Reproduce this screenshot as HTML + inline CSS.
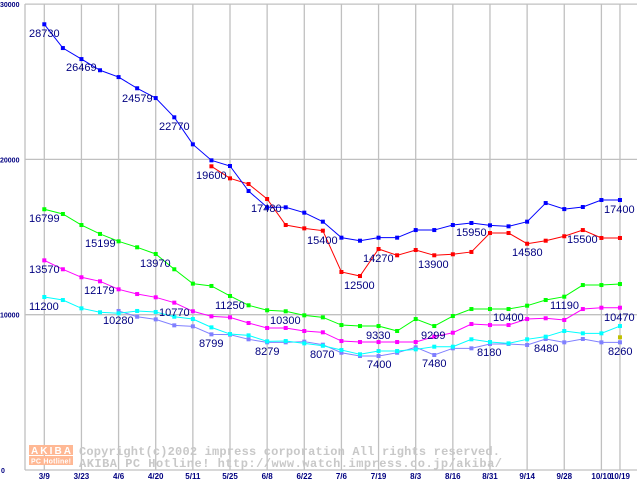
<!DOCTYPE html>
<html><head><meta charset="utf-8"><style>
body{margin:0;background:#fff;}
svg{display:block;font-family:"Liberation Sans",sans-serif;}
</style></head><body>
<svg id="chart" width="640" height="480" viewBox="0 0 640 480" xmlns="http://www.w3.org/2000/svg">
<rect width="640" height="480" fill="#fff"/>
<g id="grid"></g>
<g id="watermark">
<rect x="29" y="445" width="44" height="10" fill="#ffb894"/>
<text x="31" y="454" font-size="10" font-weight="bold" fill="#fff" textLength="40">AKIBA</text>
<rect x="29" y="456" width="44" height="9" fill="#ffb894"/>
<text x="31" y="463.5" font-size="7" font-weight="bold" fill="#fff" textLength="40">PC Hotline!</text>
<text x="79" y="455" font-family="Liberation Mono,monospace" font-size="12" font-weight="bold" fill="#c8c8c8" textLength="421">Copyright(c)2002 impress corporation All rights reserved.</text>
<text x="79" y="467" font-family="Liberation Mono,monospace" font-size="12" font-weight="bold" fill="#c8c8c8" textLength="423">AKIBA PC Hotline!  http://www.watch.impress.co.jp/akiba/</text>
</g>
<g id="series"></g>
<g id="labels" font-size="11" fill="#000080">
<text x="29" y="37">28730</text><text x="66" y="71">26469</text><text x="122" y="102">24579</text><text x="159" y="130">22770</text>
<text x="196" y="179">19600</text><text x="251" y="212">17480</text><text x="307" y="244">15400</text><text x="344" y="289">12500</text>
<text x="363" y="262">14270</text><text x="418" y="268">13900</text><text x="456" y="236">15950</text><text x="512" y="256">14580</text>
<text x="567" y="243">15500</text><text x="604" y="213">17400</text>
<text x="29" y="222">16799</text><text x="85" y="247">15199</text><text x="140" y="267">13970</text><text x="215" y="309">11250</text>
<text x="270" y="324">10300</text><text x="366" y="339">9330</text><text x="421" y="339">9299</text><text x="493" y="321">10400</text>
<text x="550" y="309">11190</text><text x="604" y="321">10470</text>
<text x="29" y="273">13570</text><text x="84" y="294">12179</text><text x="159" y="316">10770</text><text x="199" y="347">8799</text>
<text x="255" y="355">8279</text><text x="310" y="358">8070</text>
<text x="29" y="310">11200</text><text x="103" y="324">10280</text><text x="367" y="368">7400</text><text x="422" y="367">7480</text>
<text x="477" y="356">8180</text><text x="534" y="352">8480</text><text x="608" y="355">8260</text>
</g>
</svg>
<script>
const dates=["3/9","","3/23","","4/6","","4/20","","5/11","","5/25","","6/8","","6/22","","7/6","","7/19","","8/3","","8/16","","8/31","","9/14","","9/28","","10/10","10/19"];
const yTicks=[0,10000,20000,30000];
const blue=[28700,27170,26460,25740,25300,24580,23950,22710,20970,19940,19575,17965,16915,16915,16570,15990,14960,14765,14960,14960,15450,15450,15775,15905,15755,15690,15990,17190,16800,16935,17385,17385];
const red=[null,null,null,null,null,null,null,null,null,19555,18780,18415,17450,15775,15560,15410,12750,12490,14230,13825,14165,13825,13890,14040,15260,15260,14570,14765,15050,15450,14940,14940];
const green=[16790,16485,15775,15200,14725,14340,13910,12925,12000,11850,11205,10605,10285,10220,9960,9830,9335,9270,9270,8950,9720,9270,9915,10365,10365,10365,10580,10945,11160,11910,11910,11975];
const magenta=[13500,12925,12410,12150,11635,11330,11120,10775,10220,9895,9830,9465,9145,9145,8950,8865,8305,8240,8240,8240,8240,8585,8840,9400,9335,9335,9720,9770,9660,10365,10450,10450];
const cyan=[11140,10945,10410,10155,10090,10240,10175,9870,9720,9185,8755,8670,8285,8305,8155,8000,7725,7450,7660,7660,7770,7940,7940,8415,8240,8155,8415,8585,8950,8800,8800,9270];
const lavender=[null,null,null,null,10240,9870,9700,9315,9250,8735,8715,8415,8220,8220,8265,8070,7550,7340,7340,7550,7900,7405,7835,7835,8115,8115,8050,8435,8220,8435,8220,8220];
const olive=[null,null,null,null,null,null,null,null,null,null,null,null,null,null,null,null,null,null,null,null,null,null,null,null,null,null,null,null,null,null,null,8545];
const NS="http://www.w3.org/2000/svg";
const xS=i=>44.3+i*18.57;
const yS=v=>470-v*0.01553;
function mk(tag,attrs,parent){const e=document.createElementNS(NS,tag);for(const k in attrs)e.setAttribute(k,attrs[k]);parent.appendChild(e);return e;}
const grid=document.getElementById('grid');
const gridIdx=[];for(let i=0;i<=30;i+=2)gridIdx.push(i);gridIdx.push(31);
gridIdx.forEach(i=>{
 const l=mk('line',{x1:xS(i),x2:xS(i),y1:4,y2:470,stroke:'#c0c0c0','stroke-width':1.3},grid);
 
 
 const t=mk('text',{x:xS(i),y:479,'text-anchor':'middle','font-size':8,'font-weight':'bold',fill:'#000080'},grid);
 t.textContent=dates[i];
 
 
});
mk('line',{x1:25,x2:25,y1:4,y2:470,stroke:'#c0c0c0','stroke-width':1.3},grid);
yTicks.forEach(v=>{
 const l=mk('line',{x1:25,x2:637,y1:yS(v),y2:yS(v),stroke:'#c0c0c0','stroke-width':1.3},grid);
 
 
 const t=mk('text',{x:v===0?1:0,y:yS(v)+3,'font-size':7,'font-weight':'bold',fill:'#000080'},grid);
 t.textContent=String(v);
 
 
});
const sg=document.getElementById('series');
[[lavender,'#8080ff','lavender'],[cyan,'#00ffff','cyan'],[magenta,'#ff00ff','magenta'],[green,'#00ff00','green'],[red,'#ff0000','red'],[blue,'#0000ff','blue'],[olive,'#c0c000','olive']].forEach(([d,c,n])=>{
 const pts=[];d.forEach((v,i)=>{if(v!=null)pts.push([xS(i),yS(v)]);});
 const pl=mk('polyline',{points:pts.map(p=>p.join(',')).join(' '),fill:'none',stroke:c,'stroke-width':1},sg);
 
 
 pts.forEach(p=>{
  const r=mk('rect',{x:p[0]-2,y:p[1]-2,width:4,height:4,fill:c},sg);
  
  
 });
});
</script>
</body></html>
